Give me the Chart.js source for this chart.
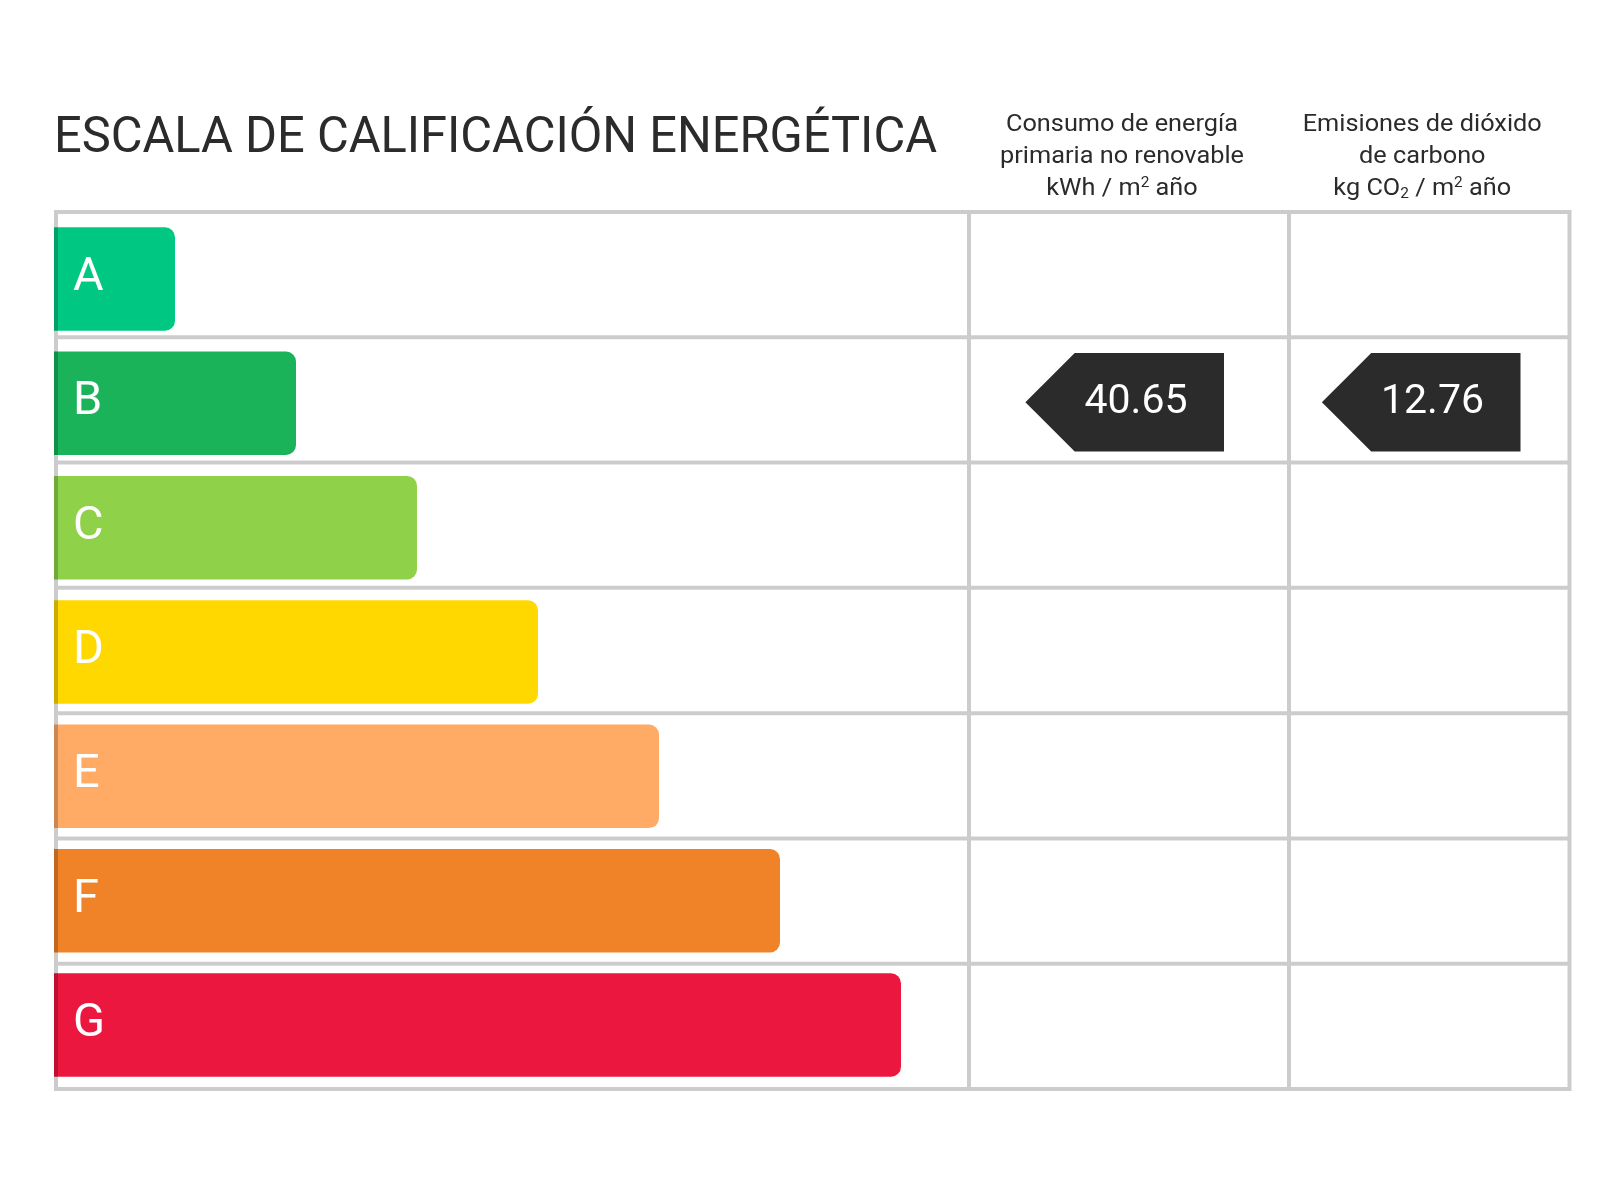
<!DOCTYPE html>
<html lang="es">
<head>
<meta charset="utf-8">
<title>Escala de calificación energética</title>
<script src="https://cdn.jsdelivr.net/npm/chart.js@4.4.1/dist/chart.umd.min.js"></script>
<style>
  html, body { margin: 0; padding: 0; background: #fff; }
  canvas { display: block; }
</style>
</head>
<body>
<canvas id="energy-chart" width="1600" height="1200"></canvas>
<script>
// categorias de la escala y longitud de cada flecha
const ratings = ["A", "B", "C", "D", "E", "F", "G"];
const ratingLengths = [1, 2, 3, 4, 5, 6, 7];
const ratingColors = ["#00c882", "#1ab35a", "#8fd148", "#ffd800", "#ffab66", "#f08228", "#eb173e"];

// valores calificados del edificio
const consumptionValue = 40.65;
const consumptionRating = "B";
const emissionsValue = 12.76;
const emissionsRating = "B";

// textos
const titleText = "ESCALA DE CALIFICACIÓN ENERGÉTICA";
const consumptionHeader = [
    [{ t: "Consumo de energía" }],
    [{ t: "primaria no renovable" }],
    [{ t: "kWh / m" }, { t: "2", sup: true }, { t: " año" }],
];
const emissionsHeader = [
    [{ t: "Emisiones de dióxido" }],
    [{ t: "de carbono" }],
    [{ t: "kg CO" }, { t: "2", sub: true }, { t: " / m" }, { t: "2", sup: true }, { t: " año" }],
];

const FONT = "Roboto, 'Noto Sans', sans-serif";
const TEXT_COLOR = "#2b2b2b";
const GRID_COLOR = "rgba(0, 0, 0, 0.2)";

// dibuja una linea de texto con super/subindices centrada en cx (algo ensanchada)
function drawRuns(ctx, runs, cx, baseline, size, stretch) {
    const small = Math.round(size * 0.62);
    let total = 0;
    runs.forEach((r) => {
        ctx.font = (r.sup || r.sub ? small : size) + "px " + FONT;
        r.w = ctx.measureText(r.t).width;
        total += r.w;
    });
    ctx.save();
    ctx.translate(cx, baseline);
    ctx.scale(stretch, 1);
    let x = -total / 2;
    runs.forEach((r) => {
        ctx.font = (r.sup || r.sub ? small : size) + "px " + FONT;
        let y = 0;
        if (r.sup) y -= size * 0.36;
        if (r.sub) y += size * 0.13;
        ctx.fillText(r.t, x, y);
        x += r.w;
    });
    ctx.restore();
}

function drawArrow(ctx, right, cy, value) {
    const h = 98.6;
    const w = 198.6;
    ctx.fillStyle = TEXT_COLOR;
    ctx.beginPath();
    ctx.moveTo(right - w, cy);
    ctx.lineTo(right - w + h / 2, cy - h / 2);
    ctx.lineTo(right, cy - h / 2);
    ctx.lineTo(right, cy + h / 2);
    ctx.lineTo(right - w + h / 2, cy + h / 2);
    ctx.closePath();
    ctx.fill();
    ctx.fillStyle = "#fff";
    ctx.font = "41px " + FONT;
    ctx.textAlign = "center";
    ctx.fillText(value.toFixed(2), right - 88, cy + 11);
    ctx.textAlign = "left";
}

const energyLabelPlugin = {
    id: "energyLabel",
    afterDatasetsDraw(chart) {
        const { ctx, chartArea: a, scales } = chart;
        const yScale = scales.y;
        const meta = chart.getDatasetMeta(0);

        ctx.save();

        // letras dentro de cada barra
        ctx.fillStyle = "#fff";
        ctx.font = "47px " + FONT;
        ctx.textBaseline = "alphabetic";
        meta.data.forEach((bar, i) => {
            ctx.fillText(ratings[i], bar.base + 19, bar.y + 11);
        });

        // cuadricula (un solo trazo para que los cruces no se oscurezcan)
        const left = a.left + 2;
        const right = a.right;
        const top = a.top - 4.8;
        const bottom = a.bottom + 1.8;
        const rowH = (bottom - top) / ratings.length;
        const div1 = a.left + 915;
        const div2 = a.left + 1235;
        ctx.strokeStyle = GRID_COLOR;
        ctx.lineWidth = 4;
        ctx.beginPath();
        for (let i = 0; i <= ratings.length; i++) {
            const yy = top + i * rowH;
            ctx.moveTo(left - 2, yy);
            ctx.lineTo(right + 2, yy);
        }
        [left, div1, div2, right].forEach((xx) => {
            ctx.moveTo(xx, top + 2);
            ctx.lineTo(xx, bottom - 2);
        });
        ctx.stroke();

        // flechas de los valores
        drawArrow(ctx, div2 - 65, yScale.getPixelForValue(ratings.indexOf(consumptionRating)) - 1, consumptionValue);
        drawArrow(ctx, right - 49, yScale.getPixelForValue(ratings.indexOf(emissionsRating)) - 1, emissionsValue);

        // titulo y cabeceras de columna
        ctx.fillStyle = TEXT_COLOR;
        ctx.font = "50px " + FONT;
        ctx.fillText(titleText, a.left, 152, 883);

        const c1 = (div1 + div2) / 2 - 7;
        const c2 = (div2 + right) / 2 - 7;
        consumptionHeader.forEach((line, i) => drawRuns(ctx, line, c1, 131 + i * 32, 23, 1.1));
        emissionsHeader.forEach((line, i) => drawRuns(ctx, line, c2, 131 + i * 32, 23, 1.1));

        ctx.restore();
    },
};

new Chart(document.getElementById("energy-chart"), {
    type: "bar",
    data: {
        labels: ratings,
        datasets: [
            {
                data: ratingLengths,
                backgroundColor: ratingColors,
                borderWidth: 0,
                borderRadius: 10,
                borderSkipped: "start",
                categoryPercentage: 1,
                barPercentage: 0.832,
            },
        ],
    },
    options: {
        indexAxis: "y",
        responsive: false,
        animation: false,
        layout: {
            padding: { left: 54, right: 30.5, top: 216.8, bottom: 112.8 },
        },
        plugins: {
            legend: { display: false },
            tooltip: { enabled: false },
        },
        scales: {
            x: { display: false, min: 0, max: 1515.5 / 121 },
            y: { display: false },
        },
    },
    plugins: [energyLabelPlugin],
});
</script>
</body>
</html>
